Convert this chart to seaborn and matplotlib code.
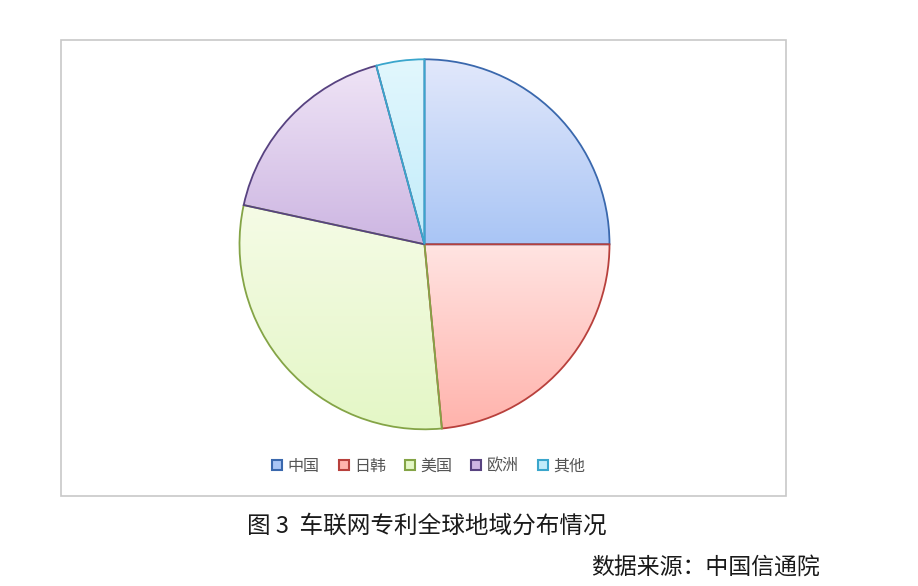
import numpy as np
import matplotlib
matplotlib.use("Agg")
import matplotlib.pyplot as plt
import seaborn as sns
from matplotlib.colors import LinearSegmentedColormap
from matplotlib.lines import Line2D
from matplotlib.patches import Rectangle

# data (share of patents, %)
regions = ["中国", "日韩", "美国", "欧洲", "其他"]
shares = [25.0, 23.5, 29.9, 17.4, 4.2]

# gradient top / bottom and edge colour for each slice
fill_top = ["#E2E8FB", "#FFE4E2", "#F5FBE6", "#EFE4F6", "#E2F7FD"]
fill_bottom = ["#A9C5F5", "#FFB3AC", "#E4F7C6", "#CDB6E2", "#C2ECFA"]
edge_colors = ["#3A68AD", "#B8403C", "#84A446", "#574280", "#3AA6CC"]

title = "图 3  车联网专利全球地域分布情况"
source = "数据来源：中国信通院"

sns.set_theme(style="white")
plt.rcParams["font.family"] = ["Noto Sans CJK SC", "DejaVu Sans"]

fig = plt.figure(figsize=(9.18, 5.86), dpi=100)
fig.patch.set_facecolor("white")

# light frame around the chart area
frame = Rectangle((61 / 918, 1 - 496 / 586), (786 - 61) / 918, (496 - 40) / 586,
                  transform=fig.transFigure, fill=False, edgecolor="#C8C8C8",
                  linewidth=1.2)
fig.patches.append(frame)

# pie centre (424.5, 244.3) px, radius ~185 px
r_px = 185 * 1.02
ax = fig.add_axes([(424.5 - r_px) / 918, 1 - (244.3 + r_px) / 586,
                   2 * r_px / 918, 2 * r_px / 586])
wedges, _ = ax.pie(shares, startangle=90, counterclock=False, radius=1,
                   wedgeprops=dict(linewidth=1.3))
ax.set_xlim(-1.02, 1.02)
ax.set_ylim(-1.02, 1.02)
ax.set_aspect("equal")
ax.axis("off")

grad = np.linspace(0, 1, 256).reshape(-1, 1)
for w, top, bot, ec in zip(wedges, fill_top, fill_bottom, edge_colors):
    w.set_facecolor("none")
    w.set_edgecolor(ec)
    w.set_zorder(3)
    cmap = LinearSegmentedColormap.from_list("g", [top, bot])
    bb = w.get_path().get_extents(w.get_patch_transform())
    im = ax.imshow(grad, cmap=cmap, aspect="auto", origin="upper",
                   extent=[bb.x0, bb.x1, bb.y0, bb.y1], zorder=2)
    im.set_clip_path(w)

handles = [Line2D([0], [0], marker="s", linestyle="", markersize=7,
                  markerfacecolor=c, markeredgecolor=e, markeredgewidth=1.5)
           for c, e in zip(fill_bottom, edge_colors)]
fig.legend(handles, regions, loc="center", bbox_to_anchor=(428 / 918, 1 - 466 / 586),
           ncol=5, frameon=False, fontsize=11.5, handlelength=0.8,
           handletextpad=0.25, columnspacing=1.1, labelcolor="#555555")

fig.text(247 / 918, 1 - 526 / 586, title, fontsize=17, color="#1a1a1a",
         ha="left", va="center")
fig.text(820 / 918, 1 - 567 / 586, source, fontsize=16.5, color="#1a1a1a",
         ha="right", va="center")

fig.savefig("out.png", dpi=100)
